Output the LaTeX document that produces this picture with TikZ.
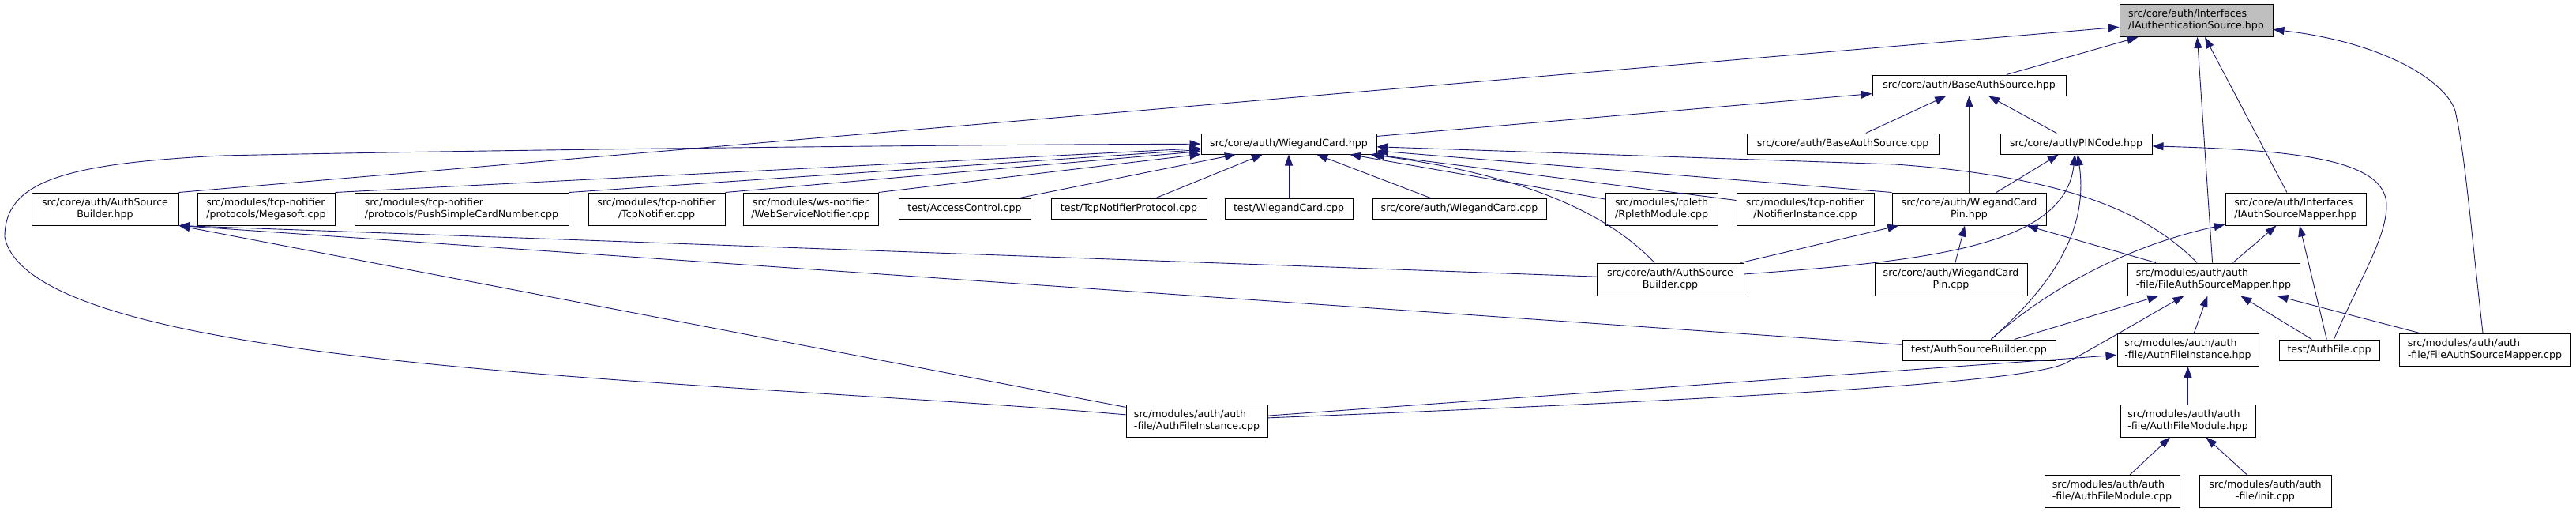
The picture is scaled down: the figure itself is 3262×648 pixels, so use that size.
\documentclass[tikz,border=0pt]{standalone}
\usepackage{fontspec}
\setmainfont{DejaVu Sans}
\usetikzlibrary{arrows.meta}
\definecolor{edgeblue}{RGB}{25,25,112}
\definecolor{rootgray}{RGB}{191,191,191}

\begin{document}
\begin{tikzpicture}[x=0.5pt, y=-0.5pt,
    file/.style={draw=black, line width=0.5pt, fill=white, inner sep=0pt,
        minimum height=13pt, align=center, font=\fontsize{6.3}{7.5}\selectfont},
    file2/.style={file, minimum height=20.5pt},
    incl/.style={-{Triangle[length=7pt,width=5pt]}, edgeblue, line width=0.45pt}]

    \useasboundingbox (0,0) rectangle (3262,648);

    % Rank 0
    \node[file2, fill=rootgray, align=left, minimum width=97pt] (ias) at (2781,26) {src/core/auth/Interfaces\\/IAuthenticationSource.hpp};
    % Rank 1
    \node[file, minimum width=122.5pt] (basH) at (2493.5,108) {src/core/auth/BaseAuthSource.hpp};
    % Rank 2
    \node[file, minimum width=111pt] (wc) at (1632,182) {src/core/auth/WiegandCard.hpp};
    \node[file, minimum width=121.5pt] (basC) at (2333.5,182) {src/core/auth/BaseAuthSource.cpp};
    \node[file, minimum width=96pt] (pin) at (2629,182) {src/core/auth/PINCode.hpp};
    % Rank 3
    \node[file2, minimum width=93pt] (asbH) at (133,264.5) {src/core/auth/AuthSource\\Builder.hpp};
    \node[file2, align=left, minimum width=87pt] (mega) at (337,264.5) {src/modules/tcp-notifier\\/protocols/Megasoft.cpp};
    \node[file2, align=left, minimum width=135.5pt] (push) at (584.5,264.5) {src/modules/tcp-notifier\\/protocols/PushSimpleCardNumber.cpp};
    \node[file2, minimum width=86.5pt] (tcpn) at (831.5,264.5) {src/modules/tcp-notifier\\/TcpNotifier.cpp};
    \node[file2, minimum width=85.5pt] (wsn) at (1026.5,264.5) {src/modules/ws-notifier\\/WebServiceNotifier.cpp};
    \node[file, minimum width=83.5pt] (acc) at (1221.5,264.5) {test/AccessControl.cpp};
    \node[file, minimum width=98.5pt] (tnp) at (1429.5,264.5) {test/TcpNotifierProtocol.cpp};
    \node[file, minimum width=81pt] (twc) at (1632,264.5) {test/WiegandCard.cpp};
    \node[file, minimum width=110pt] (wcC) at (1848,264.5) {src/core/auth/WiegandCard.cpp};
    \node[file2, minimum width=71pt] (rpl) at (2104,264.5) {src/modules/rpleth\\/RplethModule.cpp};
    \node[file2, minimum width=87pt] (ninst) at (2286,264.5) {src/modules/tcp-notifier\\/NotifierInstance.cpp};
    \node[file2, minimum width=97.5pt] (wcpH) at (2493.5,264.5) {src/core/auth/WiegandCard\\Pin.hpp};
    \node[file2, align=left, minimum width=89pt] (iasm) at (2907,264.5) {src/core/auth/Interfaces\\/IAuthSourceMapper.hpp};
    % Rank 4
    \node[file2, minimum width=93pt] (asbC) at (2115,353.5) {src/core/auth/AuthSource\\Builder.cpp};
    \node[file2, minimum width=96.5pt] (wcpC) at (2470.5,353.5) {src/core/auth/WiegandCard\\Pin.cpp};
    \node[file2, align=left, minimum width=109pt] (fasmH) at (2803,353.5) {src/modules/auth/auth\\-file/FileAuthSourceMapper.hpp};
    % Rank 5
    \node[file, minimum width=97pt] (tasb) at (2506,443) {test/AuthSourceBuilder.cpp};
    \node[file2, align=left, minimum width=89.5pt] (afiH) at (2770.5,443) {src/modules/auth/auth\\-file/AuthFileInstance.hpp};
    \node[file, minimum width=63.5pt] (tafile) at (2949.5,443) {test/AuthFile.cpp};
    \node[file2, align=left, minimum width=108.5pt] (fasmC) at (3146.5,443) {src/modules/auth/auth\\-file/FileAuthSourceMapper.cpp};
    % Rank 6
    \node[file2, align=left, minimum width=89.5pt] (afiC) at (1515.5,532.5) {src/modules/auth/auth\\-file/AuthFileInstance.cpp};
    \node[file2, align=left, minimum width=85.5pt] (afmH) at (2770.5,532.5) {src/modules/auth/auth\\-file/AuthFileModule.hpp};
    % Rank 7
    \node[file2, align=left, minimum width=85.5pt] (afmC) at (2674.5,622) {src/modules/auth/auth\\-file/AuthFileModule.cpp};
    \node[file2, minimum width=83.5pt] (init) at (2868.5,622) {src/modules/auth/auth\\-file/init.cpp};

    % Connections
    \draw[incl] (asbH.north east)--(ias);
    \foreach \n in {basH,fasmH,iasm} { \draw[incl] (\n)--(ias); }
    \foreach \n in {wc,basC,wcpH,pin} { \draw[incl] (\n)--(basH); }
    \foreach \n in {mega,push,tcpn,wsn} { \draw[incl] (\n.north east)--(wc); }
    \foreach \n in {acc,tnp,twc,wcC,rpl,ninst} { \draw[incl] (\n)--(wc); }
    \draw[incl] (wcpH.north west)--(wc);
    \foreach \n in {asbC,tasb,afiC} { \draw[incl] (\n)--(asbH.south east); }
    \foreach \n in {asbC,wcpC,fasmH} { \draw[incl] (\n)--(wcpH); }
    \draw[incl] (wcpH)--(pin);
    \foreach \n in {fasmH,tafile} { \draw[incl] (\n)--(iasm); }
    \foreach \n in {tasb,afiH,tafile,fasmC} { \draw[incl] (\n)--(fasmH); }
    \foreach \n in {afiC,afmH} { \draw[incl] (\n)--(afiH); }
    \foreach \n in {afmC,init} { \draw[incl] (\n)--(afmH); }

    % Curved connections
    \draw[incl] (fasmC) .. controls (3130,300) and (3122,200) .. (3110,145)
        .. controls (3105,110) and (3030,55) .. (ias);
    \draw[incl] (afiC) .. controls (900,480) and (40,470) .. (6,300)
        .. controls (6,230) and (80,207) .. (281,197)
        .. controls (600,190) and (1200,183) .. (wc);
    \draw[incl] (asbC) .. controls (2050,285) and (1960,225) .. (wc);
    \draw[incl] (fasmH) .. controls (2730,280) and (2640,225) .. (2400,208) -- (wc);
    \draw[incl] (asbC) .. controls (2450,330) and (2615,310) .. (pin);
    \draw[incl] (tasb) .. controls (2600,360) and (2645,290) .. (pin);
    \draw[incl] (tafile) .. controls (2990,350) and (3022,300) .. (3022,260)
        .. controls (3022,200) and (2900,190) .. (pin);
    \draw[incl] (tasb) .. controls (2600,360) and (2700,310) .. (iasm);
    \draw[incl] (afiC) .. controls (2200,505) and (2560,485) .. (2615,460)
        .. controls (2670,430) and (2720,400) .. (fasmH);
\end{tikzpicture}
\end{document}
